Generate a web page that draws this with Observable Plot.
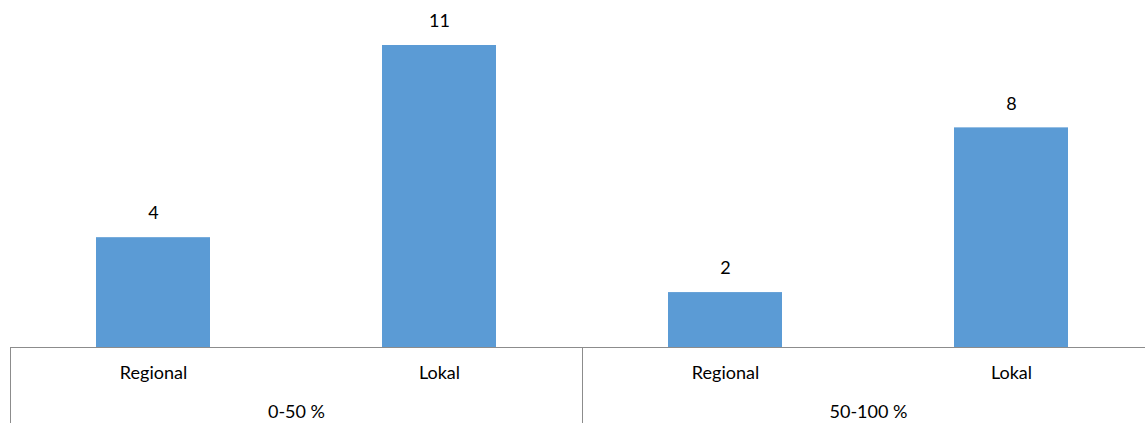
<!DOCTYPE html>
<html>
<head>
<meta charset="utf-8">
<script src="https://cdn.jsdelivr.net/npm/d3@7"></script>
<script src="https://cdn.jsdelivr.net/npm/@observablehq/plot@0.6"></script>
<style>
  html, body { margin: 0; padding: 0; background: #fff; }
  #chart svg { display: block; }
</style>
</head>
<body>
<div id="chart"></div>
<script>
const groups = ["0-50 %", "50-100 %"];
const categories = ["Regional", "Lokal"];
const values = [[4, 11], [2, 8]];

const rows = [];
groups.forEach((g, gi) => categories.forEach((c, ci) => {
  rows.push({group: g, cat: c, key: g + "|" + c, value: values[gi][ci]});
}));
const keys = rows.map(d => d.key);
const firstKeys = groups.map(g => g + "|" + categories[0]);

const W = 1145, H = 423;
const font = "Lato, 'Liberation Sans', sans-serif";
const step = (1154 - 10) / keys.length;

const plot = Plot.plot({
  width: W,
  height: H,
  marginTop: 45,
  marginBottom: 76,
  marginLeft: 10,
  marginRight: 0,
  style: {fontFamily: font, fontSize: "18px", color: "#000", background: "#fff", overflow: "hidden"},
  x: {domain: keys, range: [10, 1154], paddingInner: 0.6, paddingOuter: 0.3, axis: null},
  y: {domain: [0, 11], axis: null},
  marks: [
    Plot.barY(rows, {x: "key", y: "value", fill: "#5B9BD5"}),
    Plot.ruleY([0], {stroke: "#8c8c8c", strokeWidth: 1}),
    Plot.text(rows, {x: "key", y: "value", text: d => String(d.value), dy: -24, fill: "#000"}),
    Plot.text(rows, {x: "key", text: "cat", frameAnchor: "bottom", dy: 31, fill: "#000"}),
    Plot.text(firstKeys, {x: d => d, text: (d, i) => groups[i], frameAnchor: "bottom", dy: 70, dx: step / 2, fill: "#000"})
  ]
});

document.getElementById("chart").appendChild(plot);

// group separator lines below the baseline, positioned with the plot's own x and y scales
const xs = plot.scale("x");
const ys = plot.scale("y");
const y0 = ys.apply(0);
const svg = d3.select(plot);
firstKeys.forEach(k => {
  const center = xs.apply(k) + xs.bandwidth / 2;
  const xl = Math.round(center - step / 2) + 0.5;
  svg.append("line")
    .attr("x1", xl).attr("x2", xl)
    .attr("y1", y0).attr("y2", H)
    .attr("stroke", "#8c8c8c").attr("stroke-width", 1);
});
</script>
</body>
</html>
